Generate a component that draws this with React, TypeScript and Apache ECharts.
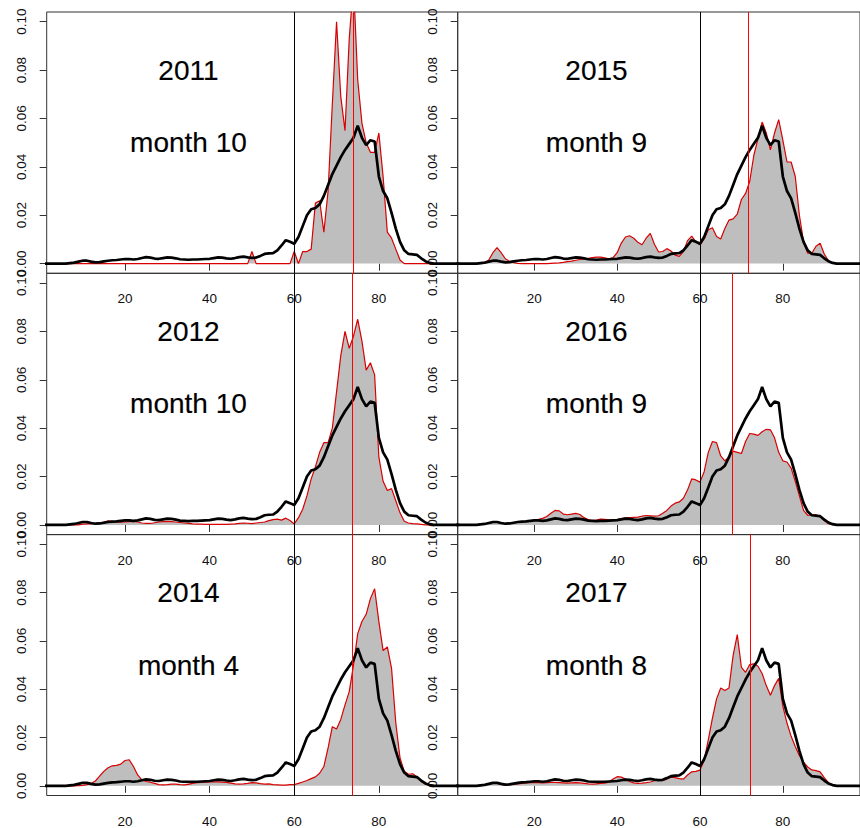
import React, { useEffect, useRef } from "react";
import * as echarts from "echarts";

// Evaluation grid of the density curves (x = 1 .. 99)
const X_GRID: number[] = Array.from({ length: 99 }, (_, i) => i + 1);

// Pooled reference density (black curve, identical in every panel)
const REF_DENSITY = [
  0, 0, 0, 0, 0, 0, 0.0002, 0.0004, 0.0008, 0.0012,
  0.0012, 0.0008, 0.0005, 0.0006, 0.0009, 0.0012, 0.0014, 0.0015, 0.0017, 0.0019,
  0.0019, 0.0017, 0.0019, 0.0023, 0.0027, 0.0025, 0.0021, 0.002, 0.0023, 0.0026,
  0.0025, 0.0022, 0.0018, 0.0017, 0.0016, 0.0017, 0.0017, 0.0018, 0.0019, 0.002,
  0.0023, 0.0026, 0.0025, 0.0022, 0.002, 0.0023, 0.0027, 0.0029, 0.0026, 0.0024,
  0.0025, 0.0032, 0.004, 0.0042, 0.0043, 0.0055, 0.0075, 0.0097, 0.009, 0.0082,
  0.011, 0.0155, 0.02, 0.0225, 0.023, 0.0245, 0.028, 0.0325, 0.037, 0.0405,
  0.044, 0.047, 0.0495, 0.052, 0.057, 0.052, 0.049, 0.051, 0.0505, 0.036,
  0.03, 0.027, 0.021, 0.0145, 0.009, 0.0055, 0.004, 0.0038, 0.0036, 0.0022,
  0.001, 0.0003, 0, 0, 0, 0, 0, 0, 0,
];

const DENSITY_2011 = [
  0, 0, 0, 0, 0, 0, 0, 0, 0, 0,
  0, 0, 0, 0, 0, 0, 0, 0, 0, 0,
  0, 0, 0, 0, 0, 0, 0, 0, 0, 0,
  0, 0, 0, 0, 0, 0, 0, 0, 0, 0,
  0, 0, 0, 0, 0, 0, 0, 0, 0, 0.005,
  0, 0, 0, 0, 0, 0, 0, 0, 0, 0.005,
  0, 0.005, 0.005, 0.006, 0.025, 0.026, 0.013, 0.03, 0.066, 0.1,
  0.069, 0.055, 0.093, 0.116, 0.076, 0.058, 0.05, 0.046, 0.046, 0.054,
  0.036, 0.013, 0.0105, 0.006, 0.0015, 0, 0, 0, 0, 0,
  0, 0, 0, 0, 0, 0, 0, 0, 0,
];

const DENSITY_2012 = [
  0, 0, 0, 0, 0, 0, 0, 0, 0, 0.0003,
  0.0004, 0.0005, 0.0006, 0.0008, 0.0012, 0.0017, 0.0015, 0.0012, 0.0011, 0.0012,
  0.0014, 0.0015, 0.0012, 0.0008, 0.0006, 0.0006, 0.0009, 0.0012, 0.0014, 0.0015,
  0.0014, 0.0012, 0.001, 0.0008, 0.0006, 0.0004, 0.0003, 0.0003, 0.0002, 0.0002,
  0.0002, 0.0002, 0.0002, 0.0002, 0.0003, 0.0004, 0.0006, 0.0008, 0.0007, 0.0005,
  0.0008, 0.001, 0.0012, 0.0018, 0.0022, 0.0024, 0.002, 0.0028, 0.0018, 0.0004,
  0.003, 0.0065, 0.012, 0.019, 0.024, 0.03, 0.034, 0.034, 0.04, 0.055,
  0.07, 0.08, 0.073, 0.078, 0.085, 0.076, 0.064, 0.067, 0.062, 0.028,
  0.018, 0.0142, 0.015, 0.01, 0.005, 0.0015, 0.0008, 0.0005, 0.0004, 0.0002,
  0, 0, 0, 0, 0, 0, 0, 0, 0,
];

const DENSITY_2014 = [
  0, 0, 0, 0, 0, 0, 0, 0, 0.0001, 0.0002,
  0.0005, 0.001, 0.002, 0.004, 0.006, 0.0075, 0.0083, 0.0085, 0.009, 0.0105,
  0.0108, 0.008, 0.0045, 0.0025, 0.0018, 0.0015, 0.001, 0.0005, 0.0004, 0.0005,
  0.0007, 0.0007, 0.0005, 0.0004, 0.0006, 0.001, 0.0013, 0.0014, 0.0015, 0.0016,
  0.0016, 0.0016, 0.0015, 0.0014, 0.0011, 0.0008, 0.0007, 0.0008, 0.001, 0.0013,
  0.0012, 0.0009, 0.0007, 0.0008, 0.0005, 0.0004, 0.0003, 0.0003, 0.0005, 0.0005,
  0.001, 0.0016, 0.0022, 0.003, 0.0037, 0.0052, 0.008, 0.0157, 0.0245, 0.0235,
  0.0275, 0.0335, 0.039, 0.05, 0.063, 0.068, 0.071, 0.0775, 0.0816, 0.068,
  0.056, 0.0575, 0.0486, 0.026, 0.0115, 0.006, 0.0048, 0.005, 0.0037, 0.0018,
  0.0008, 0.0004, 0.0002, 0.0001, 0, 0, 0, 0, 0,
];

const DENSITY_2015 = [
  0, 0, 0, 0, 0, 0, 0, 0.0003, 0.0015, 0.0045,
  0.0066, 0.0045, 0.002, 0.001, 0.0004, 0.0001, 0, 0, 0, 0,
  0, 0, 0, 0.0001, 0.0002, 0.0003, 0.0005, 0.0008, 0.001, 0.0014,
  0.0017, 0.002, 0.0022, 0.0025, 0.0027, 0.0027, 0.0024, 0.002, 0.0025, 0.0045,
  0.0085, 0.011, 0.0115, 0.0105, 0.0088, 0.0078, 0.0105, 0.0125, 0.008, 0.0048,
  0.005, 0.0062, 0.0052, 0.0035, 0.003, 0.005, 0.0095, 0.0114, 0.009, 0.0078,
  0.0102, 0.014, 0.0148, 0.0112, 0.0102, 0.0145, 0.018, 0.0185, 0.0205, 0.0265,
  0.029, 0.034, 0.0448, 0.0517, 0.0585, 0.054, 0.047, 0.054, 0.0595, 0.051,
  0.042, 0.042, 0.036, 0.02, 0.009, 0.0043, 0.0043, 0.0072, 0.0084, 0.004,
  0.0012, 0.0003, 0, 0, 0, 0, 0, 0, 0,
];

const DENSITY_2016 = [
  0, 0, 0, 0, 0, 0.0001, 0.0002, 0.0004, 0.0007, 0.001,
  0.0011, 0.0007, 0.0005, 0.0007, 0.001, 0.0012, 0.0013, 0.0015, 0.0017, 0.002,
  0.0023, 0.0027, 0.0035, 0.0048, 0.006, 0.0058, 0.0045, 0.0042, 0.0045, 0.0048,
  0.0043, 0.003, 0.0022, 0.0018, 0.002, 0.0024, 0.0023, 0.0021, 0.002, 0.0022,
  0.0026, 0.0029, 0.003, 0.0031, 0.0032, 0.0036, 0.0039, 0.0038, 0.0036, 0.0038,
  0.0048, 0.006, 0.0078, 0.009, 0.0095, 0.011, 0.0145, 0.019, 0.0186, 0.0177,
  0.022, 0.03, 0.0345, 0.034, 0.0285, 0.0265, 0.028, 0.0305, 0.03, 0.0295,
  0.0345, 0.0378, 0.0375, 0.037, 0.0385, 0.0395, 0.0393, 0.036, 0.03, 0.0265,
  0.026, 0.0235, 0.018, 0.012, 0.006, 0.0039, 0.0042, 0.0043, 0.0035, 0.0018,
  0.0005, 0.0001, 0, 0, 0, 0, 0, 0, 0,
];

const DENSITY_2017 = [
  0, 0, 0, 0, 0, 0, 0.0001, 0.0003, 0.0008, 0.0013,
  0.0012, 0.0006, 0.0004, 0.0005, 0.0007, 0.0008, 0.001, 0.0012, 0.0013, 0.0014,
  0.0013, 0.0012, 0.0013, 0.0014, 0.0014, 0.0013, 0.0012, 0.0011, 0.0012, 0.0013,
  0.0012, 0.001, 0.0008, 0.0007, 0.0008, 0.001, 0.0011, 0.0015, 0.0028, 0.0038,
  0.0036, 0.0028, 0.0018, 0.0012, 0.001, 0.0011, 0.0013, 0.0016, 0.0021, 0.0025,
  0.0022, 0.0028, 0.0036, 0.0034, 0.003, 0.0028, 0.0045, 0.0058, 0.006, 0.0065,
  0.0105, 0.019, 0.028, 0.036, 0.0405, 0.0395, 0.0405, 0.054, 0.0626, 0.049,
  0.047, 0.0502, 0.0505, 0.0495, 0.0465, 0.0415, 0.0375, 0.0415, 0.0445, 0.033,
  0.026, 0.0205, 0.0163, 0.0125, 0.0098, 0.0078, 0.0066, 0.0063, 0.0058, 0.0034,
  0.0013, 0.0004, 0, 0, 0, 0, 0, 0, 0,
];

// Panels are filled column by column: left column first, then right column
const YEARS = ["2011", "2012", "2014", "2015", "2016", "2017"];
const MONTH_LABELS = ["month 10", "month 10", "month 4", "month 9", "month 9", "month 8"];
const DENSITIES = [DENSITY_2011, DENSITY_2012, DENSITY_2014, DENSITY_2015, DENSITY_2016, DENSITY_2017];
const RED_LINES = [73.9, 73.6, 73.7, 71.6, 67.9, 72.2];
const CUTOFF = 60;

const X_TICKS = [20, 40, 60, 80];
const Y_TICKS = [0, 0.02, 0.04, 0.06, 0.08, 0.1];

// annotation anchor (data coordinates)
const LABEL_X = 35;
const YEAR_Y = 0.08;
const MONTH_Y = 0.05;

const FONT = "'Liberation Sans', Arial, Helvetica, sans-serif";

function buildOption(): echarts.EChartsOption {
  const colLeft = [46.7, 457.7];
  const rowTop = [12, 273.3, 534.6];
  const panelW = 411;
  const panelH = 261.3;

  const grids: any[] = [];
  const xAxes: any[] = [];
  const yAxes: any[] = [];
  const series: any[] = [];

  YEARS.forEach((year, i) => {
    const col = Math.floor(i / 3);
    const row = i % 3;
    grids.push({
      left: colLeft[col],
      top: rowTop[row],
      width: panelW,
      height: panelH,
      show: true,
      borderColor: "#333",
      borderWidth: 1,
      backgroundColor: "transparent",
      containLabel: false,
    });
    xAxes.push({
      type: "value",
      gridIndex: i,
      min: 1.5,
      max: 98.63,
      position: "bottom",
      axisLine: { show: false },
      splitLine: { show: false },
      axisTick: {
        show: true,
        customValues: X_TICKS,
        length: 7,
        lineStyle: { color: "#333", width: 1 },
      },
      axisLabel: {
        show: true,
        customValues: X_TICKS,
        margin: 18.5,
        fontSize: 13.5,
        color: "#111",
        fontFamily: FONT,
      },
    });
    yAxes.push({
      type: "value",
      gridIndex: i,
      min: -0.004,
      max: 0.104,
      axisLine: { show: false },
      splitLine: { show: false },
      axisTick: {
        show: true,
        customValues: Y_TICKS,
        length: 7,
        lineStyle: { color: "#333", width: 1 },
      },
      axisLabel: {
        show: true,
        customValues: Y_TICKS,
        rotate: 90,
        margin: 18,
        fontSize: 13.5,
        color: "#111",
        fontFamily: FONT,
        formatter: (v: number) => v.toFixed(2),
      },
    });

    const dens = DENSITIES[i];
    series.push({
      type: "line",
      xAxisIndex: i,
      yAxisIndex: i,
      data: X_GRID.map((x, k) => [x, dens[k]]),
      symbol: "none",
      smooth: false,
      lineStyle: { color: "#d80000", width: 1.2 },
      areaStyle: { color: "#bebebe", opacity: 1 },
      z: 2,
      markLine: {
        silent: true,
        symbol: ["none", "none"],
        label: { show: false },
        animation: false,
        data: [
          { xAxis: CUTOFF, lineStyle: { color: "#000", width: 1, type: "solid" } },
          { xAxis: RED_LINES[i], lineStyle: { color: "#ff0000", width: 1, type: "solid" } },
        ],
      },
    });
    series.push({
      type: "line",
      xAxisIndex: i,
      yAxisIndex: i,
      data: X_GRID.map((x, k) => [x, REF_DENSITY[k]]),
      symbol: "none",
      smooth: false,
      lineStyle: { color: "#000", width: 2.7 },
      z: 3,
    });
    series.push({
      type: "scatter",
      xAxisIndex: i,
      yAxisIndex: i,
      symbolSize: 0,
      itemStyle: { color: "#000", opacity: 1 },
      silent: true,
      z: 4,
      data: [
        [LABEL_X, YEAR_Y, year],
        [LABEL_X, MONTH_Y, MONTH_LABELS[i]],
      ],
      label: {
        show: true,
        position: "inside",
        formatter: (p: any) => p.value[2],
        fontSize: 28,
        color: "#000",
        opacity: 1,
        textBorderColor: "#000",
        textBorderWidth: 0.15,
        fontFamily: FONT,
      },
    });
  });

  return {
    animation: false,
    backgroundColor: "#fff",
    grid: grids,
    xAxis: xAxes,
    yAxis: yAxes,
    series,
  };
}

export default function App() {
  const ref = useRef<HTMLDivElement>(null);
  useEffect(() => {
    if (!ref.current) return;
    const chart = echarts.init(ref.current, null, { renderer: "svg" });
    chart.setOption(buildOption());
    return () => chart.dispose();
  }, []);
  return (
    <div
      ref={ref}
      style={{ position: "absolute", left: 0, top: 0, width: 860, height: 828, background: "#fff" }}
    />
  );
}
